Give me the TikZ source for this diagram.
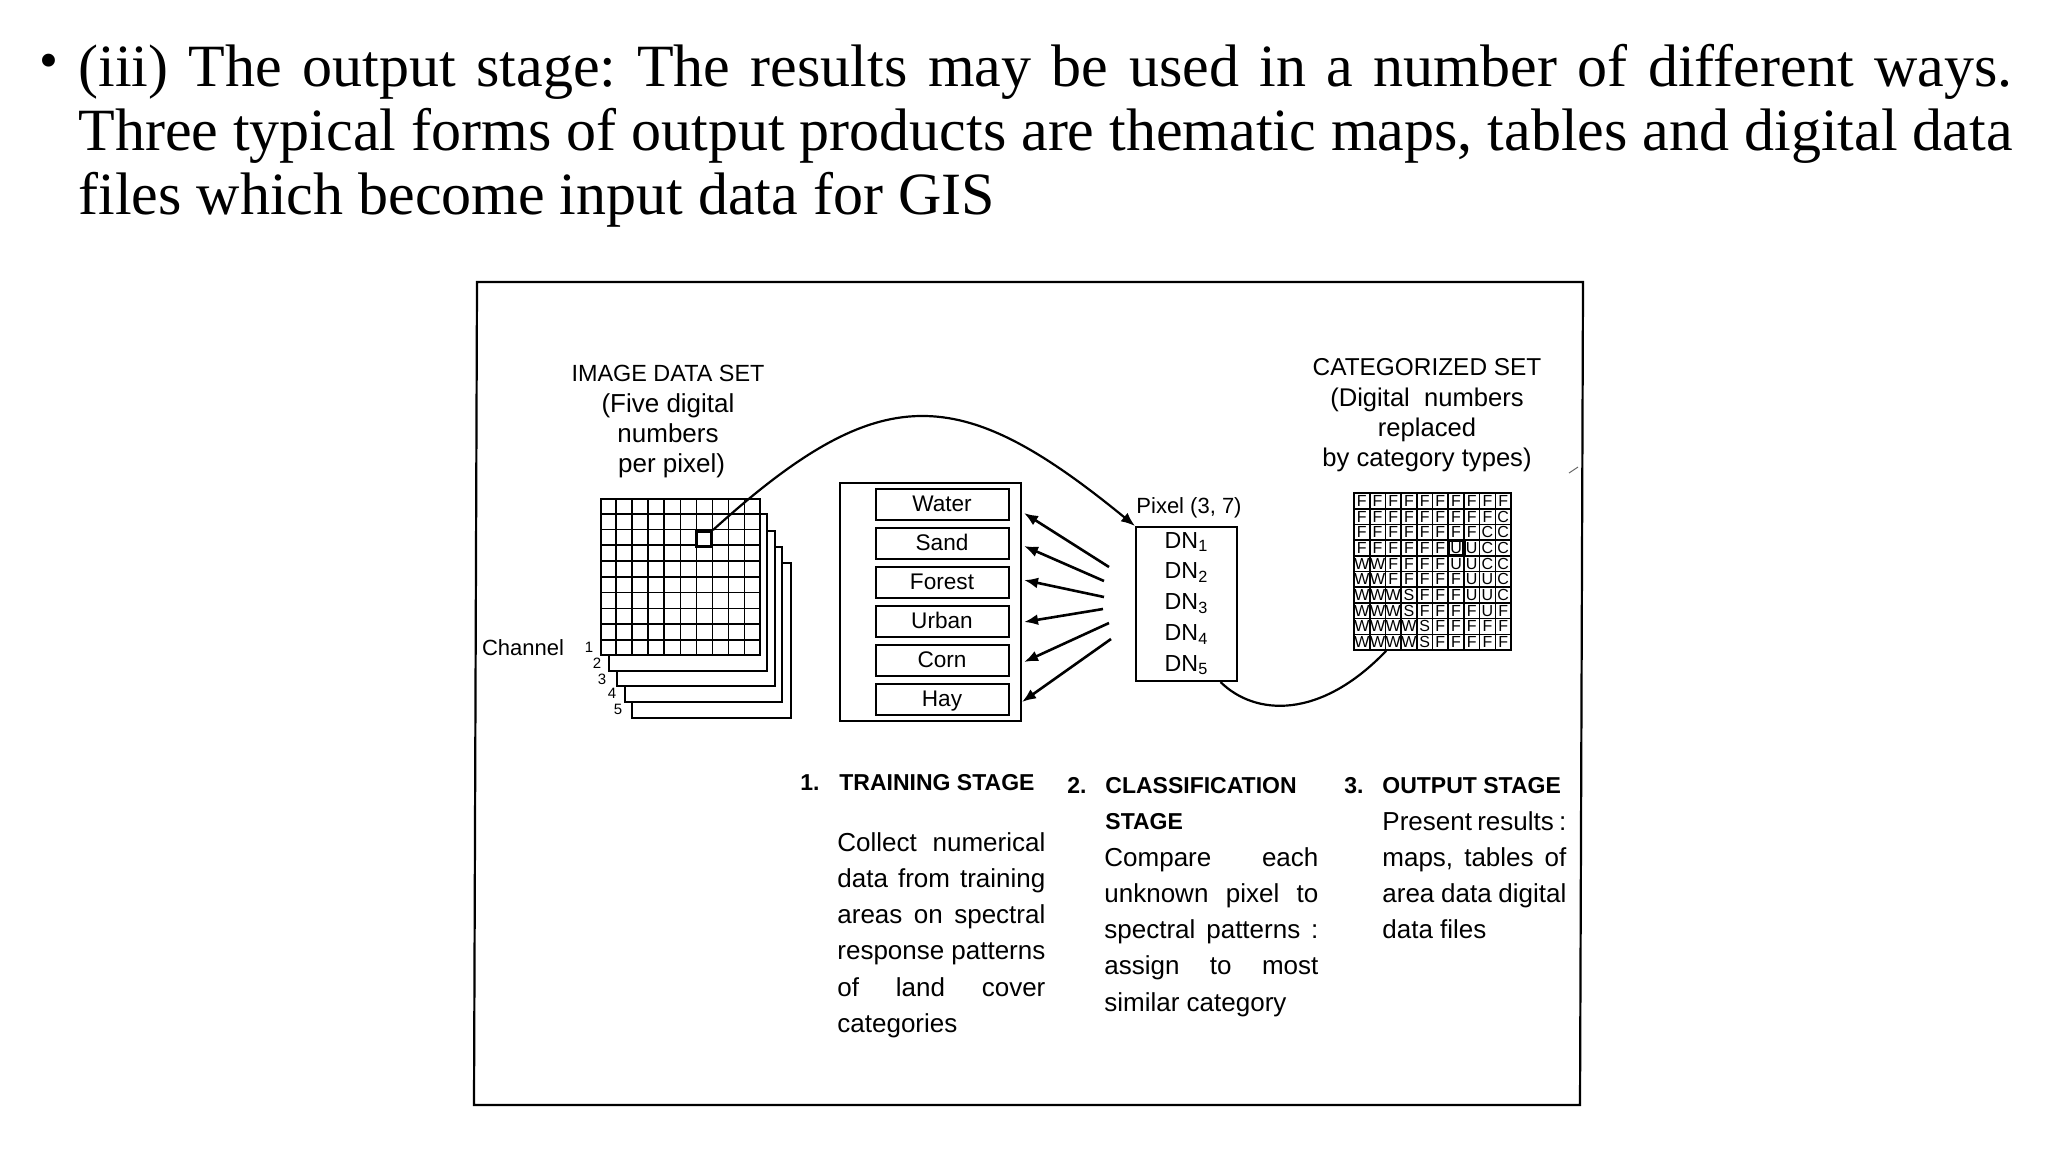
\documentclass[tikz,border=0pt]{standalone}
\usepackage{fontspec}
\setmainfont{Liberation Serif}
\newfontfamily\diagfont{Liberation Sans}
\usetikzlibrary{shapes,shapes.multipart,calc,arrows.meta}
\newcommand{\jl}[1]{\leavevmode\hbox to \hsize{\frenchspacing\spaceskip=0pt\xspaceskip=0pt #1}}

\begin{document}
\begin{tikzpicture}[x=0.5pt,y=-0.5pt]
			\tikzstyle{lnode}=[rectangle,draw,line width=1pt,fill=white,minimum width=66.5pt,minimum height=15.5pt,inner sep=0pt,text height=9.4pt,text depth=1.8pt,font=\diagfont\fontsize{11.3}{13}\selectfont]
			\tikzstyle{chnode}=[rectangle,draw,line width=0.8pt,fill=white,inner sep=0pt,anchor=north west]
			\tikzstyle{cnode}=[rectangle,draw,line width=0.8pt,fill=white,minimum size=7.85pt,inner sep=0pt,font=\diagfont\fontsize{8}{8}\selectfont]
			\tikzstyle{tnode}=[inner sep=0pt,align=center,font=\diagfont\fontsize{12.8}{15}\selectfont]
			\tikzstyle{numnode}=[inner sep=0pt,font=\diagfont\fontsize{7.5}{8}\selectfont]
			\tikzstyle{hnode}=[inner sep=0pt,anchor=base west,font=\diagfont\bfseries\fontsize{11.5}{13}\selectfont]
			\tikzstyle{bnode}=[inner sep=0pt,anchor=north west,align=left,font=\diagfont\fontsize{13}{18.1}\selectfont]
			\tikzstyle{pnode}=[rectangle split,rectangle split parts=5,rectangle split draw splits=false,draw,line width=1pt,fill=white,anchor=north west,inner xsep=0pt,inner ysep=0pt,text width=50.5pt,align=center,font=\diagfont\fontsize{11.6}{14.4}\selectfont]
			\tikzstyle{arr}=[-{Latex[length=7pt,width=5.5pt]},line width=1.3pt]
			\useasboundingbox (0,0) rectangle (2048,1152);
			\node[inner sep=0pt,font=\fontsize{27}{32}\selectfont] (bullet) at (49,66) {•};
			\node[inner sep=0pt,anchor=north west,text width=967pt,align=left,font=\fontsize{30}{32}\selectfont] (intro) at (78,44) {\jl{(iii) The output stage: The results may be used in a number of different ways.}\\\jl{Three typical forms of output products are thematic maps, tables and digital data}\\\jl{files which become input data for GIS\hfill}};
			% outer frame
			\coordinate (tl) at (477,282);
			\coordinate (tr) at (1583,282);
			\coordinate (br) at (1580,1105);
			\coordinate (bl) at (474,1105);
			\draw[line width=1.1pt] (tl) -- (tr) -- (br) -- (bl) -- cycle;
			% channels
			\node[chnode,minimum width=79.5pt,minimum height=77.5pt] (ch5) at (631,562) {};
			\node[chnode,minimum width=78.5pt,minimum height=77.5pt] (ch4) at (624,546) {};
			\node[chnode,minimum width=79pt,minimum height=77.5pt] (ch3) at (616,530) {};
			\node[chnode,minimum width=79pt,minimum height=78.5pt] (ch2) at (608,513) {};
			\node[chnode,minimum width=79.5pt,minimum height=78pt] (ch1) at (600,498) {};
			\foreach \i in {1,...,9} {
				\draw[line width=0.8pt] ($(ch1.north west)!\i/10!(ch1.north east)$) -- ($(ch1.south west)!\i/10!(ch1.south east)$);
				\draw[line width=0.8pt] ($(ch1.north west)!\i/10!(ch1.south west)$) -- ($(ch1.north east)!\i/10!(ch1.south east)$);
			}
			\node[draw,line width=1.5pt,fill=white,minimum size=7.5pt,inner sep=0pt,anchor=north west] (px) at (695,530) {};
			\node[tnode,font=\diagfont\fontsize{11.7}{15}\selectfont] (imgset) at (668,373) {IMAGE DATA SET};
			\node[tnode,font=\diagfont\fontsize{13}{15}\selectfont] (imgsub) at (668,436) {(Five digital\\numbers\\\ per pixel)};
			\node[inner sep=0pt,font=\diagfont\fontsize{11}{13}\selectfont] (chan) at (523,648) {Channel};
			\node[numnode] (n1) at (589,647) {1};
			\node[numnode] (n2) at (597,663) {2};
			\node[numnode] (n3) at (602,679) {3};
			\node[numnode] (n4) at (612,693) {4};
			\node[numnode] (n5) at (618,709) {5};
			% categories
			\node[rectangle,draw,line width=1pt,minimum width=90.5pt,minimum height=119pt,inner sep=0pt,anchor=north west] (cls) at (839,482) {};
			\node[lnode] (water) at (942,504) {Water};
			\node[lnode] (sand) at (942,543) {Sand};
			\node[lnode] (forest) at (942,582) {Forest};
			\node[lnode] (urban) at (942,621) {Urban};
			\node[lnode] (corn) at (942,660) {Corn};
			\node[lnode] (hay) at (942,699) {Hay};
			% pixel
			\node[pnode] (pixel) at (1135,526) {\strut DN\textsubscript{1} \nodepart{two} \strut DN\textsubscript{2} \nodepart{three} \strut DN\textsubscript{3} \nodepart{four} \strut DN\textsubscript{4} \nodepart{five} \strut DN\textsubscript{5}};
			\node[inner sep=0pt,font=\diagfont\fontsize{11}{13}\selectfont] (pxlabel) at (1189,508) {Pixel (3, 7)};
			\coordinate (t1) at (1109,567);
			\coordinate (t2) at (1104,581);
			\coordinate (t3) at (1104,597);
			\coordinate (t4) at (1103,609);
			\coordinate (t5) at (1109,623);
			\coordinate (t6) at (1111,639);
			\coordinate (a1) at (1024,513);
			\coordinate (a2) at (1024,546);
			\coordinate (a3) at (1024,580);
			\coordinate (a4) at (1024,622);
			\coordinate (a5) at (1024,662);
			\coordinate (a6) at (1022,702);
			\draw[arr] (t1) -- (a1);
			\draw[arr] (t2) -- (a2);
			\draw[arr] (t3) -- (a3);
			\draw[arr] (t4) -- (a4);
			\draw[arr] (t5) -- (a5);
			\draw[arr] (t6) -- (a6);
			% output grid
			\foreach \row [count=\j] in {{F,F,F,F,F,F,F,F,F,F},{F,F,F,F,F,F,F,F,F,C},{F,F,F,F,F,F,F,F,C,C},{F,F,F,F,F,F,U,U,C,C},{W,W,F,F,F,F,U,U,C,C},{W,W,F,F,F,F,F,U,U,C},{W,W,W,S,F,F,F,U,U,C},{W,W,W,S,F,F,F,F,U,F},{W,W,W,W,S,F,F,F,F,F},{W,W,W,W,S,F,F,F,F,F}} {
				\foreach \c [count=\i] in \row {
					\node[cnode] (c\i-\j) at ({1354+(\i-0.5)*15.7},{493+(\j-0.5)*15.7}) {\c};
				}
			}
			\node[draw,line width=1.6pt,minimum size=7.85pt,inner sep=0pt] (hit) at (c7-4) {};
			\node[tnode,font=\diagfont\fontsize{12.2}{15}\selectfont] (catset) at (1427,367) {CATEGORIZED SET};
			\node[tnode] (catsub) at (1427,430) {(Digital\ \ numbers\\replaced\\by category types)};
			% curves
			\draw[arr,line width=1.1pt] (px.north east) .. controls (881,378) and (959,382) .. (pixel.north west);
			\draw[line width=1.1pt] ($(pixel.south west)!0.83!(pixel.south east)$) .. controls (1255,716) and (1320,720) .. (c2-10.south east);
			% stray mark of the scan
			\coordinate (m1) at (1569,473);
			\coordinate (m2) at (1578,467);
			\draw[line width=0.5pt,black!60] (m1) -- (m2);
			% stages
			\node[hnode] (s1) at (800,790) {1.};
			\node[hnode] (h1) at (839,790) {TRAINING STAGE};
			\node[bnode,text width=104pt] (b1) at (837,832) {\jl{Collect numerical}\\\jl{data from training}\\\jl{areas on spectral}\\\jl{response patterns}\\\jl{of land cover}\\\jl{categories\hfill}};
			\node[hnode] (s2) at (1067,793) {2.};
			\node[hnode] (h2) at (1105,793) {CLASSIFICATION};
			\node[hnode] (h2b) at (1105,829) {STAGE};
			\node[bnode,text width=107pt] (b2) at (1104,847) {\jl{Compare each}\\\jl{unknown pixel to}\\\jl{spectral patterns :}\\\jl{assign to most}\\\jl{similar category\hfill}};
			\node[hnode] (s3) at (1344,793) {3.};
			\node[hnode] (h3) at (1382,793) {OUTPUT STAGE};
			\node[bnode,text width=92pt] (b3) at (1382,811) {\jl{Present results :}\\\jl{maps, tables of}\\\jl{area data digital}\\\jl{data files\hfill}};
		\end{tikzpicture}
\end{document}
